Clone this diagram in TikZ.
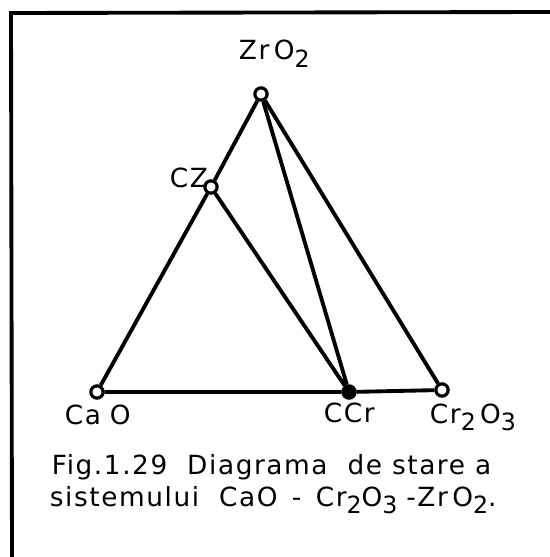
\documentclass[tikz,border=0pt]{standalone}
\usepackage{fontspec}
\setmainfont{DejaVu Sans}[LetterSpace=6]
\usetikzlibrary{positioning}
\newcommand{\ind}[1]{\raisebox{-0.5ex}{\fontsize{13.5}{14}\selectfont #1}}

\begin{document}
\begin{tikzpicture}[x=0.02cm,y=-0.02cm,line width=2.2pt,
  pt/.style={circle,draw,fill=white,line width=1.8pt,inner sep=0pt,minimum size=7pt},
  lbl/.style={anchor=base west,inner sep=0pt,font=\fontsize{15}{18}\selectfont}]
\useasboundingbox (0,0) rectangle (550,557);
\draw (12,557) -- (11,13) -- (550,12);
\node[pt] (zr) at (261,94) {}; \node[pt] (cz) at (211,187) {};
\node[pt] (ca) at (97,392) {}; \node[pt,fill=black] (ccr) at (349,392) {};
\node[pt] (cr) at (442,390) {};
\draw (ca) -- (cz) -- (zr) -- (cr) -- (ccr) -- (ca);
\draw (cz) -- (ccr) -- (zr);
\node[lbl] (lzr) at (237,60) {Zr\,O\ind{2}};
\node[lbl] (lcz) at (168,188) {CZ};
\node[lbl] (lca) at (63,424) {Ca\,\,O};
\node[lbl] (lccr) at (322,422) {CCr};
\node[lbl] (lcr) at (428,423) {Cr\ind{2}\,O\ind{3}};
\node[lbl] (cap1) at (50,474) {Fig.1.29\ \ Diagrama\ \ de stare a};
\node[lbl] (cap2) at (48,506) {sistemului\ \ CaO\ \,-\ \,Cr\ind{2}O\ind{3}\,\,-Zr\,O\ind{2}.};
\end{tikzpicture}
\end{document}
